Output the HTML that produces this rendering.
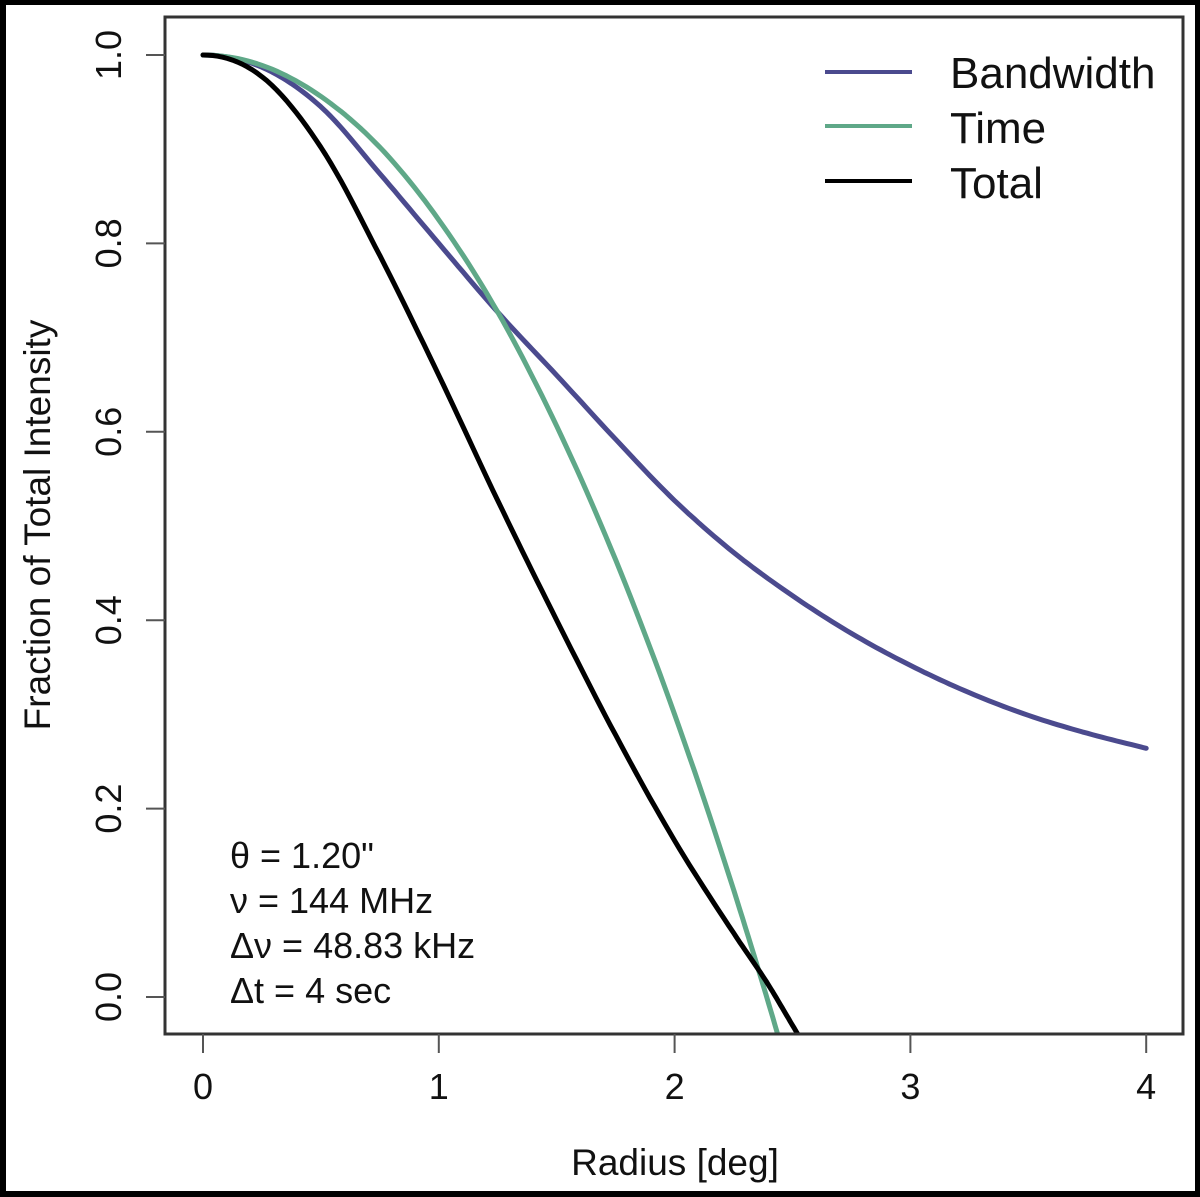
<!DOCTYPE html>
<html><head><meta charset="utf-8">
<style>
html,body{margin:0;padding:0;background:#000;}
svg{display:block;}
text{font-family:"Liberation Sans",Arial,sans-serif;fill:#111;}
</style></head>
<body>
<svg id="chart" width="1200" height="1197" viewBox="0 0 1200 1197" xmlns="http://www.w3.org/2000/svg">
<rect x="6" y="5" width="1189" height="1186" fill="#fff"/>
<defs><clipPath id="plotclip"><rect x="165" y="17" width="1018" height="1017"/></clipPath></defs>
<g id="curves" clip-path="url(#plotclip)"></g>
<rect x="165" y="17" width="1018" height="1017" fill="none" stroke="#333" stroke-width="3"/>
<g id="axes"></g>
<text x="675" y="1175" font-size="37" text-anchor="middle">Radius [deg]</text>
<text transform="translate(50,525) rotate(-90)" font-size="37" text-anchor="middle">Fraction of Total Intensity</text>
<g>
<line x1="825" y1="72" x2="912" y2="72" stroke="#4b4a8e" stroke-width="4"/>
<text x="950" y="88" font-size="44">Bandwidth</text>
<line x1="825" y1="126" x2="912" y2="126" stroke="#5fa888" stroke-width="4"/>
<text x="950" y="143" font-size="44">Time</text>
<line x1="825" y1="181" x2="912" y2="181" stroke="#000" stroke-width="4"/>
<text x="950" y="198" font-size="44">Total</text>
</g>
<g font-size="36">
<text x="230" y="868">θ = 1.20"</text>
<text x="230" y="913">ν = 144 MHz</text>
<text x="230" y="958">Δν = 48.83 kHz</text>
<text x="230" y="1003">Δt = 4 sec</text>
</g>
</svg>
<script>
const xTicks = [0, 1, 2, 3, 4];
const yTicks = [0.0, 0.2, 0.4, 0.6, 0.8, 1.0];
const yTickLabels = ["0.0", "0.2", "0.4", "0.6", "0.8", "1.0"];
const bandR = [0, 0.25, 0.5, 0.75, 1, 1.25, 1.5, 1.75, 2, 2.25, 2.5, 2.75, 3, 3.25, 3.5, 3.75, 4];
const bandV = [1.0, 0.987, 0.945, 0.874, 0.80, 0.727, 0.66, 0.592, 0.527, 0.472, 0.426, 0.386, 0.352, 0.323, 0.299, 0.28, 0.264];
const timeR = [0, 0.25, 0.5, 0.75, 1, 1.25, 1.5, 1.75, 2, 2.25, 2.4, 2.5];
const timeV = [1.0, 0.989, 0.956, 0.902, 0.825, 0.727, 0.606, 0.464, 0.30, 0.114, -0.008, -0.094];
const totalR = [0, 0.25, 0.5, 0.75, 1, 1.25, 1.5, 1.75, 2, 2.25, 2.4, 2.5, 2.6];
const totalV = [1.0, 0.977, 0.902, 0.787, 0.66, 0.527, 0.40, 0.278, 0.166, 0.068, 0.012, -0.03, -0.072];

function xs(r){ return 203 + r * 235.8; }
function ys(v){ return 997 - v * 942; }

function smoothPath(R, V){
  const n = R.length;
  const m = [];
  for (let i=0;i<n;i++){
    if (i===0) m.push(0);
    else if (i===n-1) m.push((V[i]-V[i-1])/(R[i]-R[i-1]));
    else {
      const s0=(V[i]-V[i-1])/(R[i]-R[i-1]), s1=(V[i+1]-V[i])/(R[i+1]-R[i]);
      const h0=R[i]-R[i-1], h1=R[i+1]-R[i];
      m.push((s0*h1+s1*h0)/(h0+h1));
    }
  }
  let d = "M" + xs(R[0]).toFixed(1) + "," + ys(V[0]).toFixed(1);
  for (let i=0;i<n-1;i++){
    const h=R[i+1]-R[i];
    for (let k=1;k<=12;k++){
      const t=k/12, t2=t*t, t3=t2*t;
      const v=(2*t3-3*t2+1)*V[i]+(t3-2*t2+t)*h*m[i]+(-2*t3+3*t2)*V[i+1]+(t3-t2)*h*m[i+1];
      d += " L" + xs(R[i]+t*h).toFixed(1) + "," + ys(v).toFixed(1);
    }
  }
  return d;
}
const NS = "http://www.w3.org/2000/svg";
const curves = document.getElementById('curves');
function addCurve(R, V, color, name){
  const el = document.createElementNS(NS, 'path');
  el.setAttribute('d', smoothPath(R, V));
  el.setAttribute('fill', 'none');
  el.setAttribute('stroke', color);
  el.setAttribute('stroke-width', '5');
  el.setAttribute('stroke-linecap', 'round');
  el.setAttribute('stroke-linejoin', 'round');
  
  
  curves.appendChild(el);
}
addCurve(bandR, bandV, '#4b4a8e', 'bandwidth-line');
addCurve(timeR, timeV, '#5fa888', 'time-line');
addCurve(totalR, totalV, '#000000', 'total-line');

const axes = document.getElementById('axes');
xTicks.forEach(function(t){
  const ln = document.createElementNS(NS, 'line');
  ln.setAttribute('x1', xs(t)); ln.setAttribute('x2', xs(t));
  ln.setAttribute('y1', 1034); ln.setAttribute('y2', 1053);
  ln.setAttribute('stroke', '#555'); ln.setAttribute('stroke-width', '2');
  
  
  axes.appendChild(ln);
  const tx = document.createElementNS(NS, 'text');
  tx.setAttribute('x', xs(t)); tx.setAttribute('y', 1099);
  tx.setAttribute('font-size', '36'); tx.setAttribute('text-anchor', 'middle');
  tx.textContent = String(t);
  
  
  axes.appendChild(tx);
});
yTicks.forEach(function(t, i){
  const ln = document.createElementNS(NS, 'line');
  ln.setAttribute('x1', 146); ln.setAttribute('x2', 165);
  ln.setAttribute('y1', ys(t)); ln.setAttribute('y2', ys(t));
  ln.setAttribute('stroke', '#555'); ln.setAttribute('stroke-width', '2');
  
  
  axes.appendChild(ln);
  const tx = document.createElementNS(NS, 'text');
  tx.setAttribute('transform', 'translate(121,' + ys(t) + ') rotate(-90)');
  tx.setAttribute('font-size', '36'); tx.setAttribute('text-anchor', 'middle');
  tx.textContent = yTickLabels[i];
  
  
  axes.appendChild(tx);
});
</script>
</body></html>
